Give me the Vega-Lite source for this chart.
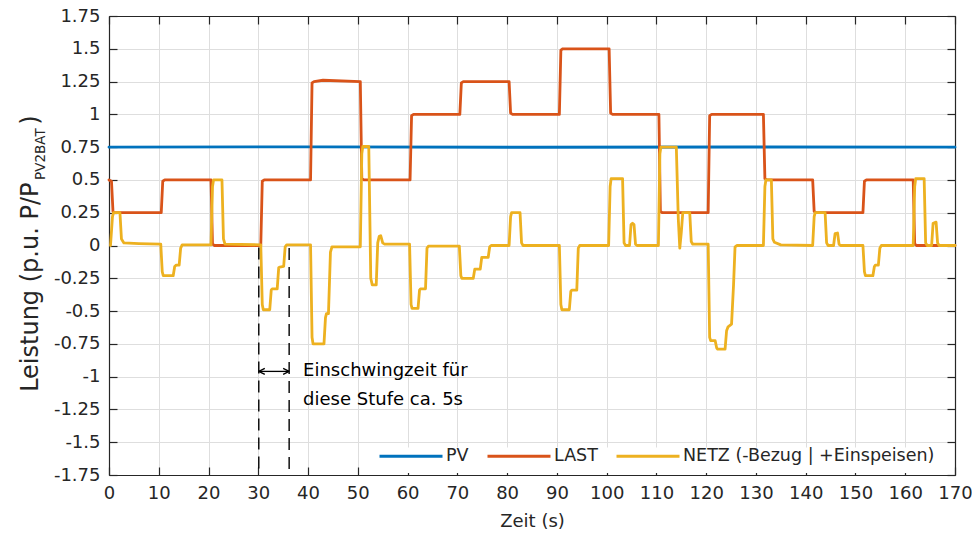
{
  "$schema": "https://vega.github.io/schema/vega-lite/v6.json",
  "width": 846,
  "height": 459,
  "autosize": {"type": "none"},
  "padding": {"left": 109, "top": 16, "right": 17, "bottom": 65},
  "background": "white",
  "config": {
    "font": "DejaVu Sans",
    "view": {"stroke": null},
    "axis": {
      "labelFont": "DejaVu Sans",
      "labelFontSize": 18,
      "labelColor": "#262626",
      "titleFont": "DejaVu Sans",
      "titleFontSize": 18,
      "titleFontWeight": "normal",
      "titleColor": "#262626",
      "domainColor": "#262626",
      "domainWidth": 1.2,
      "tickColor": "#262626",
      "tickWidth": 1.2,
      "tickSize": -8,
      "gridColor": "#DEDEDE",
      "gridWidth": 1
    }
  },
  "datasets": {
    "messung": [
      {"Zeit": 0, "Leistung": 0.75, "Serie": "PV"},
      {"Zeit": 42, "Leistung": 0.752, "Serie": "PV"},
      {"Zeit": 85, "Leistung": 0.749, "Serie": "PV"},
      {"Zeit": 128, "Leistung": 0.751, "Serie": "PV"},
      {"Zeit": 170, "Leistung": 0.75, "Serie": "PV"},

      {"Zeit": 0, "Leistung": 0.5, "Serie": "LAST"},
      {"Zeit": 0.5, "Leistung": 0.49, "Serie": "LAST"},
      {"Zeit": 0.8, "Leistung": 0.26, "Serie": "LAST"},
      {"Zeit": 1.0, "Leistung": 0.25, "Serie": "LAST"},
      {"Zeit": 10.5, "Leistung": 0.25, "Serie": "LAST"},
      {"Zeit": 10.8, "Leistung": 0.49, "Serie": "LAST"},
      {"Zeit": 11.2, "Leistung": 0.5, "Serie": "LAST"},
      {"Zeit": 20.5, "Leistung": 0.5, "Serie": "LAST"},
      {"Zeit": 20.8, "Leistung": 0.01, "Serie": "LAST"},
      {"Zeit": 21.2, "Leistung": 0.0, "Serie": "LAST"},
      {"Zeit": 30.5, "Leistung": 0.0, "Serie": "LAST"},
      {"Zeit": 30.8, "Leistung": 0.49, "Serie": "LAST"},
      {"Zeit": 31.2, "Leistung": 0.5, "Serie": "LAST"},
      {"Zeit": 40.5, "Leistung": 0.5, "Serie": "LAST"},
      {"Zeit": 40.8, "Leistung": 1.24, "Serie": "LAST"},
      {"Zeit": 41.2, "Leistung": 1.25, "Serie": "LAST"},
      {"Zeit": 43.0, "Leistung": 1.26, "Serie": "LAST"},
      {"Zeit": 50.5, "Leistung": 1.25, "Serie": "LAST"},
      {"Zeit": 50.8, "Leistung": 0.51, "Serie": "LAST"},
      {"Zeit": 51.2, "Leistung": 0.5, "Serie": "LAST"},
      {"Zeit": 60.5, "Leistung": 0.5, "Serie": "LAST"},
      {"Zeit": 60.8, "Leistung": 0.99, "Serie": "LAST"},
      {"Zeit": 61.2, "Leistung": 1.0, "Serie": "LAST"},
      {"Zeit": 70.5, "Leistung": 1.0, "Serie": "LAST"},
      {"Zeit": 70.8, "Leistung": 1.24, "Serie": "LAST"},
      {"Zeit": 71.2, "Leistung": 1.25, "Serie": "LAST"},
      {"Zeit": 80.4, "Leistung": 1.25, "Serie": "LAST"},
      {"Zeit": 80.7, "Leistung": 1.01, "Serie": "LAST"},
      {"Zeit": 81.1, "Leistung": 1.0, "Serie": "LAST"},
      {"Zeit": 90.5, "Leistung": 1.0, "Serie": "LAST"},
      {"Zeit": 90.8, "Leistung": 1.49, "Serie": "LAST"},
      {"Zeit": 91.2, "Leistung": 1.5, "Serie": "LAST"},
      {"Zeit": 100.5, "Leistung": 1.5, "Serie": "LAST"},
      {"Zeit": 100.8, "Leistung": 1.01, "Serie": "LAST"},
      {"Zeit": 101.2, "Leistung": 1.0, "Serie": "LAST"},
      {"Zeit": 110.5, "Leistung": 1.0, "Serie": "LAST"},
      {"Zeit": 110.8, "Leistung": 0.26, "Serie": "LAST"},
      {"Zeit": 111.2, "Leistung": 0.25, "Serie": "LAST"},
      {"Zeit": 120.4, "Leistung": 0.25, "Serie": "LAST"},
      {"Zeit": 120.7, "Leistung": 0.99, "Serie": "LAST"},
      {"Zeit": 121.1, "Leistung": 1.0, "Serie": "LAST"},
      {"Zeit": 131.5, "Leistung": 1.0, "Serie": "LAST"},
      {"Zeit": 131.8, "Leistung": 0.51, "Serie": "LAST"},
      {"Zeit": 132.2, "Leistung": 0.5, "Serie": "LAST"},
      {"Zeit": 141.4, "Leistung": 0.5, "Serie": "LAST"},
      {"Zeit": 141.7, "Leistung": 0.26, "Serie": "LAST"},
      {"Zeit": 142.1, "Leistung": 0.25, "Serie": "LAST"},
      {"Zeit": 151.5, "Leistung": 0.25, "Serie": "LAST"},
      {"Zeit": 151.8, "Leistung": 0.49, "Serie": "LAST"},
      {"Zeit": 152.2, "Leistung": 0.5, "Serie": "LAST"},
      {"Zeit": 161.6, "Leistung": 0.5, "Serie": "LAST"},
      {"Zeit": 161.9, "Leistung": 0.01, "Serie": "LAST"},
      {"Zeit": 162.3, "Leistung": 0.0, "Serie": "LAST"},
      {"Zeit": 170, "Leistung": 0.0, "Serie": "LAST"},

      {"Zeit": 0.3, "Leistung": 0.0, "Serie": "NETZ"},
      {"Zeit": 0.7, "Leistung": 0.22, "Serie": "NETZ"},
      {"Zeit": 0.9, "Leistung": 0.25, "Serie": "NETZ"},
      {"Zeit": 2.2, "Leistung": 0.25, "Serie": "NETZ"},
      {"Zeit": 2.5, "Leistung": 0.05, "Serie": "NETZ"},
      {"Zeit": 3.0, "Leistung": 0.02, "Serie": "NETZ"},
      {"Zeit": 6.0, "Leistung": 0.015, "Serie": "NETZ"},
      {"Zeit": 10.4, "Leistung": 0.01, "Serie": "NETZ"},
      {"Zeit": 10.7, "Leistung": -0.2, "Serie": "NETZ"},
      {"Zeit": 10.9, "Leistung": -0.23, "Serie": "NETZ"},
      {"Zeit": 12.9, "Leistung": -0.23, "Serie": "NETZ"},
      {"Zeit": 13.2, "Leistung": -0.16, "Serie": "NETZ"},
      {"Zeit": 13.5, "Leistung": -0.15, "Serie": "NETZ"},
      {"Zeit": 14.1, "Leistung": -0.15, "Serie": "NETZ"},
      {"Zeit": 14.4, "Leistung": -0.02, "Serie": "NETZ"},
      {"Zeit": 14.7, "Leistung": 0.005, "Serie": "NETZ"},
      {"Zeit": 20.5, "Leistung": 0.005, "Serie": "NETZ"},
      {"Zeit": 20.8, "Leistung": 0.45, "Serie": "NETZ"},
      {"Zeit": 21.0, "Leistung": 0.5, "Serie": "NETZ"},
      {"Zeit": 22.7, "Leistung": 0.5, "Serie": "NETZ"},
      {"Zeit": 23.0, "Leistung": 0.05, "Serie": "NETZ"},
      {"Zeit": 23.3, "Leistung": 0.01, "Serie": "NETZ"},
      {"Zeit": 30.5, "Leistung": 0.005, "Serie": "NETZ"},
      {"Zeit": 30.8, "Leistung": -0.45, "Serie": "NETZ"},
      {"Zeit": 31.0, "Leistung": -0.49, "Serie": "NETZ"},
      {"Zeit": 32.3, "Leistung": -0.49, "Serie": "NETZ"},
      {"Zeit": 32.6, "Leistung": -0.34, "Serie": "NETZ"},
      {"Zeit": 32.8, "Leistung": -0.33, "Serie": "NETZ"},
      {"Zeit": 33.8, "Leistung": -0.33, "Serie": "NETZ"},
      {"Zeit": 34.1, "Leistung": -0.17, "Serie": "NETZ"},
      {"Zeit": 34.3, "Leistung": -0.165, "Serie": "NETZ"},
      {"Zeit": 35.1, "Leistung": -0.16, "Serie": "NETZ"},
      {"Zeit": 35.4, "Leistung": -0.01, "Serie": "NETZ"},
      {"Zeit": 35.7, "Leistung": 0.005, "Serie": "NETZ"},
      {"Zeit": 40.5, "Leistung": 0.005, "Serie": "NETZ"},
      {"Zeit": 40.8, "Leistung": -0.7, "Serie": "NETZ"},
      {"Zeit": 41.0, "Leistung": -0.75, "Serie": "NETZ"},
      {"Zeit": 43.2, "Leistung": -0.75, "Serie": "NETZ"},
      {"Zeit": 43.5, "Leistung": -0.55, "Serie": "NETZ"},
      {"Zeit": 43.7, "Leistung": -0.52, "Serie": "NETZ"},
      {"Zeit": 44.1, "Leistung": -0.52, "Serie": "NETZ"},
      {"Zeit": 44.5, "Leistung": -0.05, "Serie": "NETZ"},
      {"Zeit": 44.8, "Leistung": -0.01, "Serie": "NETZ"},
      {"Zeit": 50.5, "Leistung": -0.01, "Serie": "NETZ"},
      {"Zeit": 50.8, "Leistung": 0.7, "Serie": "NETZ"},
      {"Zeit": 51.0, "Leistung": 0.755, "Serie": "NETZ"},
      {"Zeit": 52.2, "Leistung": 0.755, "Serie": "NETZ"},
      {"Zeit": 52.6, "Leistung": -0.25, "Serie": "NETZ"},
      {"Zeit": 52.9, "Leistung": -0.3, "Serie": "NETZ"},
      {"Zeit": 53.7, "Leistung": -0.3, "Serie": "NETZ"},
      {"Zeit": 54.0, "Leistung": 0.02, "Serie": "NETZ"},
      {"Zeit": 54.3, "Leistung": 0.07, "Serie": "NETZ"},
      {"Zeit": 54.6, "Leistung": 0.075, "Serie": "NETZ"},
      {"Zeit": 55.0, "Leistung": 0.02, "Serie": "NETZ"},
      {"Zeit": 55.4, "Leistung": 0.01, "Serie": "NETZ"},
      {"Zeit": 60.4, "Leistung": 0.01, "Serie": "NETZ"},
      {"Zeit": 60.7, "Leistung": -0.45, "Serie": "NETZ"},
      {"Zeit": 60.9, "Leistung": -0.48, "Serie": "NETZ"},
      {"Zeit": 62.1, "Leistung": -0.48, "Serie": "NETZ"},
      {"Zeit": 62.4, "Leistung": -0.34, "Serie": "NETZ"},
      {"Zeit": 62.6, "Leistung": -0.33, "Serie": "NETZ"},
      {"Zeit": 63.6, "Leistung": -0.33, "Serie": "NETZ"},
      {"Zeit": 63.9, "Leistung": -0.02, "Serie": "NETZ"},
      {"Zeit": 64.2, "Leistung": -0.005, "Serie": "NETZ"},
      {"Zeit": 70.4, "Leistung": -0.005, "Serie": "NETZ"},
      {"Zeit": 70.7, "Leistung": -0.23, "Serie": "NETZ"},
      {"Zeit": 70.9, "Leistung": -0.25, "Serie": "NETZ"},
      {"Zeit": 73.2, "Leistung": -0.25, "Serie": "NETZ"},
      {"Zeit": 73.5, "Leistung": -0.18, "Serie": "NETZ"},
      {"Zeit": 74.6, "Leistung": -0.18, "Serie": "NETZ"},
      {"Zeit": 74.9, "Leistung": -0.09, "Serie": "NETZ"},
      {"Zeit": 76.2, "Leistung": -0.09, "Serie": "NETZ"},
      {"Zeit": 76.5, "Leistung": -0.01, "Serie": "NETZ"},
      {"Zeit": 76.8, "Leistung": 0.0, "Serie": "NETZ"},
      {"Zeit": 80.4, "Leistung": 0.0, "Serie": "NETZ"},
      {"Zeit": 80.7, "Leistung": 0.22, "Serie": "NETZ"},
      {"Zeit": 80.9, "Leistung": 0.25, "Serie": "NETZ"},
      {"Zeit": 82.6, "Leistung": 0.25, "Serie": "NETZ"},
      {"Zeit": 82.9, "Leistung": 0.02, "Serie": "NETZ"},
      {"Zeit": 83.2, "Leistung": 0.0, "Serie": "NETZ"},
      {"Zeit": 90.5, "Leistung": 0.0, "Serie": "NETZ"},
      {"Zeit": 90.8, "Leistung": -0.45, "Serie": "NETZ"},
      {"Zeit": 91.0, "Leistung": -0.49, "Serie": "NETZ"},
      {"Zeit": 92.5, "Leistung": -0.49, "Serie": "NETZ"},
      {"Zeit": 92.8, "Leistung": -0.35, "Serie": "NETZ"},
      {"Zeit": 93.0, "Leistung": -0.34, "Serie": "NETZ"},
      {"Zeit": 94.0, "Leistung": -0.34, "Serie": "NETZ"},
      {"Zeit": 94.3, "Leistung": -0.02, "Serie": "NETZ"},
      {"Zeit": 94.6, "Leistung": 0.0, "Serie": "NETZ"},
      {"Zeit": 100.4, "Leistung": 0.0, "Serie": "NETZ"},
      {"Zeit": 100.7, "Leistung": 0.45, "Serie": "NETZ"},
      {"Zeit": 100.9, "Leistung": 0.51, "Serie": "NETZ"},
      {"Zeit": 103.2, "Leistung": 0.51, "Serie": "NETZ"},
      {"Zeit": 103.5, "Leistung": 0.02, "Serie": "NETZ"},
      {"Zeit": 103.8, "Leistung": 0.0, "Serie": "NETZ"},
      {"Zeit": 104.6, "Leistung": 0.0, "Serie": "NETZ"},
      {"Zeit": 104.9, "Leistung": 0.16, "Serie": "NETZ"},
      {"Zeit": 105.2, "Leistung": 0.17, "Serie": "NETZ"},
      {"Zeit": 105.5, "Leistung": 0.16, "Serie": "NETZ"},
      {"Zeit": 105.8, "Leistung": 0.01, "Serie": "NETZ"},
      {"Zeit": 106.1, "Leistung": 0.0, "Serie": "NETZ"},
      {"Zeit": 110.4, "Leistung": 0.0, "Serie": "NETZ"},
      {"Zeit": 110.7, "Leistung": 0.7, "Serie": "NETZ"},
      {"Zeit": 110.9, "Leistung": 0.75, "Serie": "NETZ"},
      {"Zeit": 114.0, "Leistung": 0.75, "Serie": "NETZ"},
      {"Zeit": 114.4, "Leistung": 0.2, "Serie": "NETZ"},
      {"Zeit": 114.7, "Leistung": -0.02, "Serie": "NETZ"},
      {"Zeit": 115.0, "Leistung": 0.1, "Serie": "NETZ"},
      {"Zeit": 115.3, "Leistung": 0.25, "Serie": "NETZ"},
      {"Zeit": 116.7, "Leistung": 0.25, "Serie": "NETZ"},
      {"Zeit": 117.0, "Leistung": 0.03, "Serie": "NETZ"},
      {"Zeit": 117.3, "Leistung": 0.01, "Serie": "NETZ"},
      {"Zeit": 120.4, "Leistung": 0.01, "Serie": "NETZ"},
      {"Zeit": 120.7, "Leistung": -0.7, "Serie": "NETZ"},
      {"Zeit": 120.9, "Leistung": -0.725, "Serie": "NETZ"},
      {"Zeit": 121.8, "Leistung": -0.725, "Serie": "NETZ"},
      {"Zeit": 122.1, "Leistung": -0.78, "Serie": "NETZ"},
      {"Zeit": 122.3, "Leistung": -0.79, "Serie": "NETZ"},
      {"Zeit": 123.8, "Leistung": -0.79, "Serie": "NETZ"},
      {"Zeit": 124.1, "Leistung": -0.65, "Serie": "NETZ"},
      {"Zeit": 124.4, "Leistung": -0.62, "Serie": "NETZ"},
      {"Zeit": 125.1, "Leistung": -0.6, "Serie": "NETZ"},
      {"Zeit": 125.5, "Leistung": -0.3, "Serie": "NETZ"},
      {"Zeit": 125.8, "Leistung": -0.01, "Serie": "NETZ"},
      {"Zeit": 126.2, "Leistung": 0.0, "Serie": "NETZ"},
      {"Zeit": 131.5, "Leistung": 0.0, "Serie": "NETZ"},
      {"Zeit": 131.8, "Leistung": 0.45, "Serie": "NETZ"},
      {"Zeit": 132.0, "Leistung": 0.5, "Serie": "NETZ"},
      {"Zeit": 133.1, "Leistung": 0.5, "Serie": "NETZ"},
      {"Zeit": 133.4, "Leistung": 0.05, "Serie": "NETZ"},
      {"Zeit": 133.7, "Leistung": 0.025, "Serie": "NETZ"},
      {"Zeit": 135.0, "Leistung": 0.005, "Serie": "NETZ"},
      {"Zeit": 141.4, "Leistung": 0.0, "Serie": "NETZ"},
      {"Zeit": 141.7, "Leistung": 0.22, "Serie": "NETZ"},
      {"Zeit": 141.9, "Leistung": 0.25, "Serie": "NETZ"},
      {"Zeit": 143.9, "Leistung": 0.25, "Serie": "NETZ"},
      {"Zeit": 144.2, "Leistung": 0.02, "Serie": "NETZ"},
      {"Zeit": 144.5, "Leistung": 0.0, "Serie": "NETZ"},
      {"Zeit": 145.6, "Leistung": 0.0, "Serie": "NETZ"},
      {"Zeit": 145.9, "Leistung": 0.09, "Serie": "NETZ"},
      {"Zeit": 146.4, "Leistung": 0.095, "Serie": "NETZ"},
      {"Zeit": 146.7, "Leistung": 0.01, "Serie": "NETZ"},
      {"Zeit": 147.0, "Leistung": 0.0, "Serie": "NETZ"},
      {"Zeit": 151.5, "Leistung": 0.0, "Serie": "NETZ"},
      {"Zeit": 151.8, "Leistung": -0.2, "Serie": "NETZ"},
      {"Zeit": 152.0, "Leistung": -0.23, "Serie": "NETZ"},
      {"Zeit": 153.5, "Leistung": -0.23, "Serie": "NETZ"},
      {"Zeit": 153.8, "Leistung": -0.16, "Serie": "NETZ"},
      {"Zeit": 154.0, "Leistung": -0.15, "Serie": "NETZ"},
      {"Zeit": 154.6, "Leistung": -0.15, "Serie": "NETZ"},
      {"Zeit": 154.9, "Leistung": -0.02, "Serie": "NETZ"},
      {"Zeit": 155.2, "Leistung": 0.0, "Serie": "NETZ"},
      {"Zeit": 161.6, "Leistung": 0.0, "Serie": "NETZ"},
      {"Zeit": 161.9, "Leistung": 0.45, "Serie": "NETZ"},
      {"Zeit": 162.1, "Leistung": 0.51, "Serie": "NETZ"},
      {"Zeit": 163.8, "Leistung": 0.51, "Serie": "NETZ"},
      {"Zeit": 164.1, "Leistung": 0.02, "Serie": "NETZ"},
      {"Zeit": 164.4, "Leistung": 0.0, "Serie": "NETZ"},
      {"Zeit": 165.3, "Leistung": 0.0, "Serie": "NETZ"},
      {"Zeit": 165.6, "Leistung": 0.17, "Serie": "NETZ"},
      {"Zeit": 166.2, "Leistung": 0.178, "Serie": "NETZ"},
      {"Zeit": 166.5, "Leistung": 0.02, "Serie": "NETZ"},
      {"Zeit": 166.8, "Leistung": 0.0, "Serie": "NETZ"},
      {"Zeit": 170, "Leistung": 0.0, "Serie": "NETZ"}
    ]
  },
  "layer": [
    {
      "data": {"name": "messung"},
      "mark": {"type": "line", "strokeWidth": 2.8, "strokeJoin": "round", "strokeCap": "round"},
      "encoding": {
        "x": {
          "field": "Zeit", "type": "quantitative",
          "scale": {"domain": [0, 170], "nice": false, "zero": false},
          "axis": {
            "values": [0, 10, 20, 30, 40, 50, 60, 70, 80, 90, 100, 110, 120, 130, 140, 150, 160, 170],
            "grid": true, "title": "Zeit (s)", "labelPadding": 17, "titlePadding": 10, "labelFlush": false
          }
        },
        "y": {
          "field": "Leistung", "type": "quantitative",
          "scale": {"domain": [-1.75, 1.75], "nice": false, "zero": false},
          "axis": {
            "values": [-1.75, -1.5, -1.25, -1, -0.75, -0.5, -0.25, 0, 0.25, 0.5, 0.75, 1, 1.25, 1.5, 1.75],
            "grid": true, "title": null, "labelPadding": 17, "labelExpr": "'' + datum.value", "labelFlush": false
          }
        },
        "color": {
          "field": "Serie", "type": "nominal",
          "scale": {"domain": ["PV", "LAST", "NETZ"], "range": ["#0072BD", "#D95319", "#EDB120"]},
          "legend": {
            "title": null,
            "orient": "none",
            "legendX": 264,
            "legendY": 402,
            "direction": "horizontal",
            "symbolType": "stroke",
            "symbolSize": 3969,
            "symbolStrokeWidth": 3,
            "labelFont": "DejaVu Sans",
            "labelFontSize": 17.5,
            "labelColor": "#262626",
            "labelOffset": 2,
            "labelLimit": 0,
            "columnPadding": 12,
            "padding": 5,
            "labelExpr": "datum.label == 'NETZ' ? 'NETZ (-Bezug | +Einspeisen)' : datum.label"
          }
        }
      }
    },
    {
      "data": {"name": "messung"},
      "mark": {"type": "point", "opacity": 0},
      "encoding": {
        "x": {
          "field": "Zeit", "type": "quantitative",
          "scale": {"domain": [0, 170], "nice": false, "zero": false},
          "axis": {"orient": "top", "labels": false, "title": null, "grid": false,
                   "values": [0, 10, 20, 30, 40, 50, 60, 70, 80, 90, 100, 110, 120, 130, 140, 150, 160, 170]}
        },
        "y": {
          "field": "Leistung", "type": "quantitative",
          "scale": {"domain": [-1.75, 1.75], "nice": false, "zero": false},
          "axis": {"orient": "right", "labels": false, "title": null, "grid": false,
                   "values": [-1.75, -1.5, -1.25, -1, -0.75, -0.5, -0.25, 0, 0.25, 0.5, 0.75, 1, 1.25, 1.5, 1.75]}
        }
      }
    },
    {
      "data": {"values": [{}]},
      "mark": {"type": "rect", "color": "white", "opacity": 1},
      "encoding": {
        "x": {"datum": 53.6, "type": "quantitative", "axis": null},
        "x2": {"datum": 166.0},
        "y": {"datum": -1.54, "type": "quantitative", "axis": null},
        "y2": {"datum": -1.735}
      }
    },
    {
      "data": {"values": [{}]},
      "mark": {"type": "rule", "color": "black", "strokeWidth": 1.4, "strokeDash": [12, 7]},
      "encoding": {
        "x": {"datum": 30.1, "type": "quantitative", "axis": null},
        "y": {"datum": -0.015, "type": "quantitative", "axis": null},
        "y2": {"datum": -1.75}
      }
    },
    {
      "data": {"values": [{}]},
      "mark": {"type": "rule", "color": "black", "strokeWidth": 1.4, "strokeDash": [12, 7]},
      "encoding": {
        "x": {"datum": 36.2, "type": "quantitative", "axis": null},
        "y": {"datum": -0.02, "type": "quantitative", "axis": null},
        "y2": {"datum": -1.75}
      }
    },
    {
      "data": {"values": [{}]},
      "mark": {"type": "rule", "color": "black", "strokeWidth": 1.3},
      "encoding": {
        "x": {"datum": 30.1, "type": "quantitative", "axis": null},
        "x2": {"datum": 36.2},
        "y": {"datum": -0.96, "type": "quantitative", "axis": null}
      }
    },
    {
      "data": {"values": [{}]},
      "mark": {"type": "point", "shape": "M0,0L2,-1M0,0L2,1", "size": 36, "filled": false, "stroke": "black", "strokeWidth": 1.3, "opacity": 1},
      "encoding": {
        "x": {"datum": 30.1, "type": "quantitative", "axis": null},
        "y": {"datum": -0.96, "type": "quantitative", "axis": null}
      }
    },
    {
      "data": {"values": [{}]},
      "mark": {"type": "point", "shape": "M0,0L-2,-1M0,0L-2,1", "size": 36, "filled": false, "stroke": "black", "strokeWidth": 1.3, "opacity": 1},
      "encoding": {
        "x": {"datum": 36.2, "type": "quantitative", "axis": null},
        "y": {"datum": -0.96, "type": "quantitative", "axis": null}
      }
    },
    {
      "data": {"values": [{}]},
      "mark": {"type": "text", "text": "Einschwingzeit für", "align": "left", "baseline": "middle", "font": "DejaVu Sans", "fontSize": 18, "color": "#000000"},
      "encoding": {
        "x": {"datum": 39.0, "type": "quantitative", "axis": null},
        "y": {"datum": -0.96, "type": "quantitative", "axis": null}
      }
    },
    {
      "data": {"values": [{}]},
      "mark": {"type": "text", "text": "diese Stufe ca. 5s", "align": "left", "baseline": "middle", "font": "DejaVu Sans", "fontSize": 18, "color": "#000000"},
      "encoding": {
        "x": {"datum": 39.0, "type": "quantitative", "axis": null},
        "y": {"datum": -1.18, "type": "quantitative", "axis": null}
      }
    },
    {
      "data": {"values": [{}]},
      "mark": {"type": "text", "text": "Leistung (p.u. P/P", "align": "right", "baseline": "alphabetic", "angle": 270, "font": "DejaVu Sans", "fontSize": 24, "color": "#262626"},
      "encoding": {
        "x": {"datum": -14.3, "type": "quantitative", "axis": null},
        "y": {"datum": 0.48, "type": "quantitative", "axis": null}
      }
    },
    {
      "data": {"values": [{}]},
      "mark": {"type": "text", "text": "PV2BAT", "align": "left", "baseline": "alphabetic", "angle": 270, "font": "DejaVu Sans", "fontSize": 13.5, "color": "#262626"},
      "encoding": {
        "x": {"datum": -12.9, "type": "quantitative", "axis": null},
        "y": {"datum": 0.5, "type": "quantitative", "axis": null}
      }
    },
    {
      "data": {"values": [{}]},
      "mark": {"type": "text", "text": ")", "align": "left", "baseline": "alphabetic", "angle": 270, "font": "DejaVu Sans", "fontSize": 24, "color": "#262626"},
      "encoding": {
        "x": {"datum": -14.3, "type": "quantitative", "axis": null},
        "y": {"datum": 0.92, "type": "quantitative", "axis": null}
      }
    }
  ],
  "resolve": {"axis": {"x": "independent", "y": "independent"}}
}
